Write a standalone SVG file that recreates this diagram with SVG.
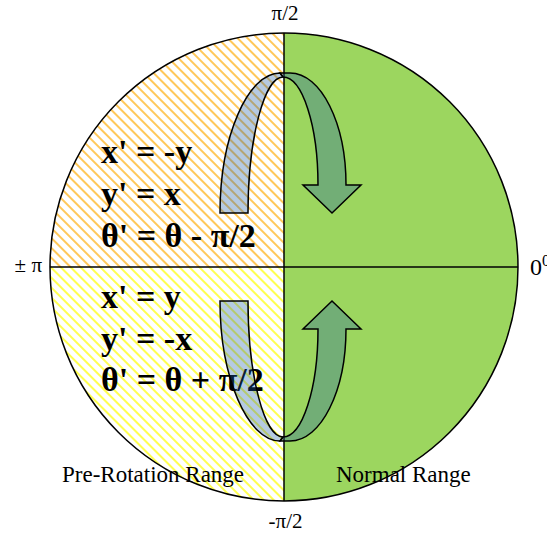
<svg xmlns="http://www.w3.org/2000/svg" width="547" height="535" viewBox="0 0 547 535">
  <style>
    .lbl { font-family: "Liberation Serif", "Times New Roman", serif; fill: #000; }
    .eq { font-family: "Liberation Serif", "Times New Roman", serif; font-weight: bold; font-size: 34px; fill: #000; }
    .edge { stroke: #000; stroke-width: 1.5; fill: none; }
    .arrow { fill: #1F5FA6; fill-opacity: 0.33; stroke: #000; stroke-width: 1.5; stroke-linejoin: miter; }
  </style>
  <defs>
    <pattern id="hatchOrange" patternUnits="userSpaceOnUse" width="7" height="7" patternTransform="rotate(-45)">
      <rect x="0" y="0" width="7" height="7" fill="#FFFFFF"/>
      <rect x="0" y="0" width="2" height="7" fill="#FFC85A"/>
    </pattern>
    <pattern id="hatchYellow" patternUnits="userSpaceOnUse" width="7" height="7" patternTransform="rotate(-45)">
      <rect x="0" y="0" width="7" height="7" fill="#FFFFFF"/>
      <rect x="0" y="0" width="2" height="7" fill="#FFFF50"/>
    </pattern>
  </defs>

  <g id="normal-range">
    <path d="M284,33 A234,234 0 0 1 284,501 Z" fill="#9CD65F"/>
  </g>
  <g id="upper-left-quadrant">
    <path d="M284,267 L50,267 A234,234 0 0 1 284,33 Z" fill="url(#hatchOrange)"/>
  </g>
  <g id="lower-left-quadrant">
    <path d="M284,267 L284,501 A234,234 0 0 1 50,267 Z" fill="url(#hatchYellow)"/>
  </g>

  <g id="axes">
    <circle cx="284" cy="267" r="234" class="edge"/>
    <line x1="50" y1="267" x2="518" y2="267" class="edge"/>
    <line x1="284" y1="33" x2="284" y2="501" class="edge"/>
  </g>

  <g id="axis-labels">
    <text class="lbl" x="285" y="20" font-size="21" text-anchor="middle">π/2</text>
    <text class="lbl" x="285.5" y="528" font-size="21" text-anchor="middle">-π/2</text>
    <text class="lbl" x="42" y="272" font-size="21" text-anchor="end">± π</text>
    <text class="lbl" x="530" y="275" font-size="24">0<tspan font-size="16" dy="-9">0</tspan></text>
  </g>

  <g id="range-labels">
    <text class="lbl" x="62" y="482" font-size="23">Pre-Rotation Range</text>
    <text class="lbl" x="336" y="482" font-size="23">Normal Range</text>
  </g>

  <g id="upper-equations">
    <text class="eq" x="101" y="163">x' = -y</text>
    <text class="eq" x="101" y="205">y' = x</text>
    <text class="eq" x="101" y="247">θ' = θ - π/2</text>
  </g>
  <g id="lower-equations">
    <text class="eq" x="101" y="308">x' = y</text>
    <text class="eq" x="101" y="350">y' = -x</text>
    <text class="eq" x="101" y="391">θ' = θ + π/2</text>
  </g>

  <g id="connectors">
    <g id="upper-arrow">
      <path class="arrow" d="M220,213 C220,136 248,73 280,73 L283,77 C264.6,77 248,137.4 248,213 Z"/>
      <path class="arrow" d="M280,73 L290,73 C321,73 346,123 346,185 L361,185 L332,213 L303,185 L318,185 C318,125.4 302.3,77 283,77 Z"/>
    </g>
    <g id="lower-arrow">
      <path class="arrow" d="M220,301 C220,378 248,441 280,441 L283,437 C264.6,437 248,376.6 248,301 Z"/>
      <path class="arrow" d="M280,441 L290,441 C321,441 346,391 346,329 L361,329 L332,301 L303,329 L318,329 C318,388.6 302.3,437 283,437 Z"/>
    </g>
  </g>
</svg>
